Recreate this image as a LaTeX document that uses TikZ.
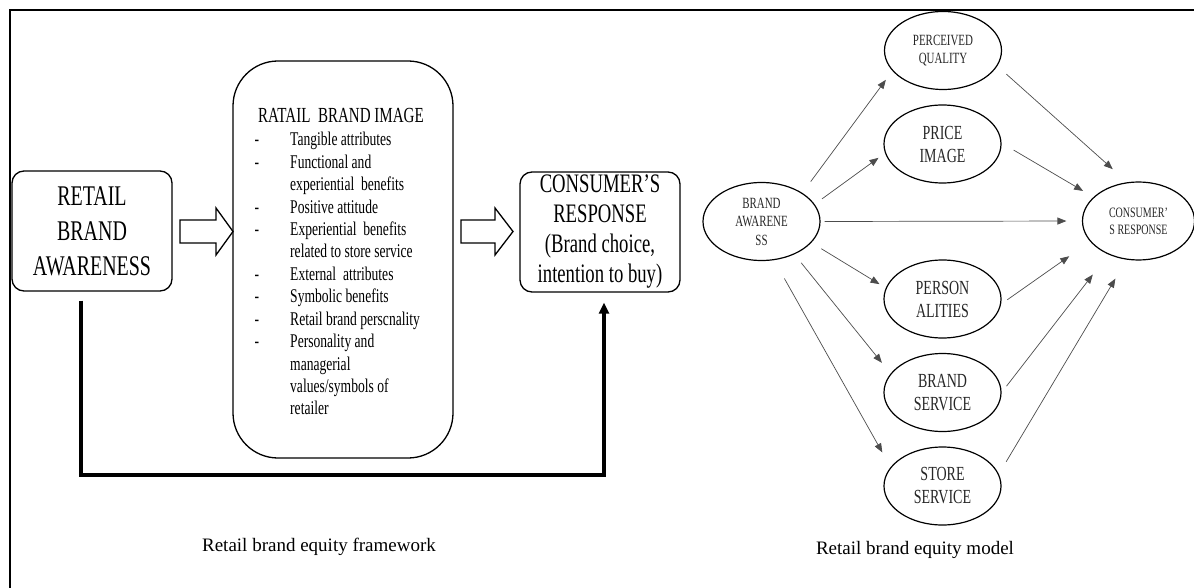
\documentclass[tikz,border=0pt]{standalone}
\usepackage{fontspec}
\setmainfont{Liberation Serif}
\newfontfamily\nrw[FakeStretch=0.7]{Liberation Serif}
\usetikzlibrary{shapes.geometric,arrows.meta}
\begin{document}
\begin{tikzpicture}[x=1pt,y=-1pt,
  rbox/.style={draw, line width=1.3pt, rounded corners=12pt, minimum width=160pt, minimum height=120pt, inner sep=0pt, align=center},
  ell/.style={draw, ellipse, line width=1.2pt, minimum width=117pt, minimum height=78pt, inner sep=0pt, align=center, text=black!85},
  conn/.style={line width=0.7pt, draw=black!70, -{Triangle[length=9pt,width=7pt]}},
  hollow/.style={draw, line width=1.3pt, fill=white},
  fb/.style={line width=3.5pt, -{Triangle[length=11pt,width=10pt]}},
  item/.style={anchor=base west, inner sep=0pt, font=\nrw\fontsize{19.4}{22}\selectfont},
  caption/.style={anchor=base, inner sep=0pt, font=\fontsize{19}{22}\selectfont}
]
\useasboundingbox (0,0) rectangle (1194,588);
% frame
\draw[line width=2.5pt] (9,10) -- (1194,10);
\draw[line width=2pt] (10,10) -- (10,588);

% ---------- left: framework ----------
\node[rbox, font=\nrw\fontsize{28.5}{35}\selectfont] (rba) at (92,231) {RETAIL\\BRAND\\AWARENESS};
\node[draw, line width=1.3pt, rounded corners=45pt, minimum width=220pt, minimum height=397pt, inner sep=0pt] (rbi) at (343,259.5) {};
\node[anchor=base, inner sep=0pt, font=\nrw\fontsize{21.5}{24}\selectfont] (rbit) at (341,123) {RATAIL\ \ BRAND IMAGE};
\foreach \t [count=\i] in {Tangible attributes, Functional and, experiential\ \ benefits, Positive attitude, Experiential\ \ benefits, related\ to store service, External\ \ attributes, Symbolic\ benefits, Retail brand perscnality, Personality and, managerial, values/symbols of, retailer}
  \node[item] (it\i) at (290,{146+(\i-1)*22.4}) {\t};
\foreach \i in {1,2,4,5,7,8,9,10}
  \node[item, anchor=base] (d\i) at (257,{146+(\i-1)*22.4}) {-};
\node[rbox, font=\nrw\fontsize{26.7}{30}\selectfont] (cr) at (600,232) {CONSUMER’S\\RESPONSE\\(Brand choice,\\intention to buy)};

% hollow arrows
\draw[hollow] (180,220) -- (216,220) -- (216,208) -- (233,231.5) -- (216,255) -- (216,243) -- (180,243) -- cycle;
\draw[hollow] (461,220) -- (495,220) -- (495,208) -- (513,231.5) -- (495,255) -- (495,243) -- (461,243) -- cycle;

% feedback
\coordinate (fbl) at (81,475);
\draw[fb] ([xshift=-11pt,yshift=-9pt]rba.south) -- (fbl) -| ([xshift=4pt,yshift=-10pt]cr.south);

\node[caption] (cap1) at (319,551.5) {Retail brand equity framework};

% ---------- right: model ----------
\node[ell, font=\nrw\fontsize{15.6}{18}\selectfont] (pq) at (943,50.5) {PERCEIVED\\QUALITY};
\node[ell, font=\nrw\fontsize{20}{23}\selectfont] (pi) at (942.5,144) {PRICE\\IMAGE};
\node[ell, font=\nrw\fontsize{15.6}{18.5}\selectfont] (ba) at (761.5,221.5) {BRAND\\AWARENE\\SS};
\node[ell, minimum width=112pt, font=\nrw\fontsize{14.3}{17}\selectfont] (crr) at (1138.5,221) {CONSUMER’\\S RESPONSE};
\node[ell, font=\nrw\fontsize{20}{23}\selectfont] (pe) at (942.5,299) {PERSON\\ALITIES};
\node[ell, font=\nrw\fontsize{20}{23}\selectfont] (bs) at (942.5,392.5) {BRAND\\SERVICE};
\node[ell, font=\nrw\fontsize{20}{23}\selectfont] (ss) at (942.5,486) {STORE\\SERVICE};

\draw[conn, shorten <=14pt, shorten >=11pt] (ba.35) -- (pq.202);
\draw[conn, shorten <=9pt, shorten >=8pt] (ba.18) -- (pi.189);
\draw[conn, shorten <=4pt, shorten >=15.5pt] (ba.0) -- (crr.180);
\draw[conn, shorten <=11.6pt, shorten >=7.3pt] (ba.-23) -- (pe.169);
\draw[conn, shorten <=10.8pt, shorten >=13.8pt] (ba.-45) -- (bs.160);
\draw[conn, shorten <=21pt, shorten >=16.8pt] (ba.-72.5) -- (ss.160);
\draw[conn, shorten <=12pt, shorten >=19.5pt] (pq.-16) -- (crr.106);
\draw[conn, shorten <=14pt, shorten >=12pt] (pi.1) -- (crr.152);
\draw[conn, shorten <=7.6pt, shorten >=25.5pt] (pe.-5) -- (crr.203);
\draw[conn, shorten <=8pt, shorten >=25.4pt] (bs.0) -- (crr.228);
\draw[conn, shorten <=14.3pt, shorten >=22pt] (ss.12) -- (crr.253);

\node[caption] (cap2) at (915,554.5) {Retail brand equity model};
\end{tikzpicture}
\end{document}
